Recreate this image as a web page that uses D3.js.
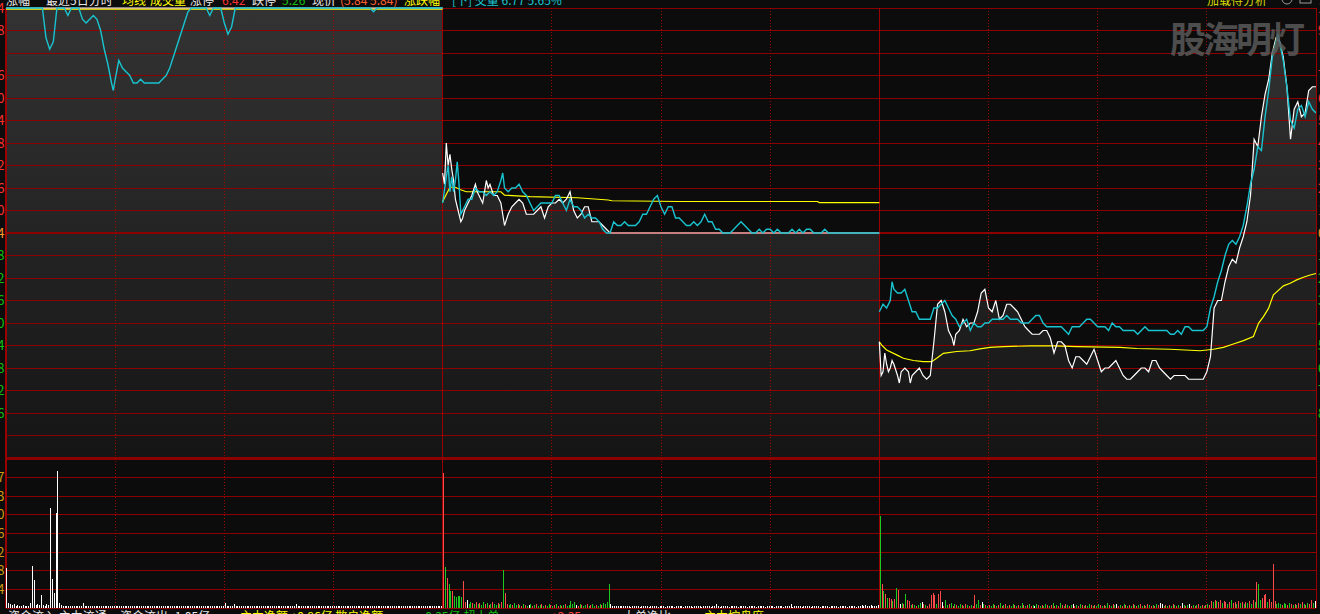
<!DOCTYPE html>
<html><head><meta charset="utf-8">
<script src="https://cdn.jsdelivr.net/npm/d3@7"></script>
<style>html,body{margin:0;padding:0;background:#0c0c0c;overflow:hidden}svg{display:block}</style>
</head><body><svg id="c" width="1320" height="614"></svg>
<script>
// ---------- data ----------
const prevClose = 5.84;
const priceTicks = [6.44,6.38,6.32,6.26,6.20,6.14,6.08,6.02,5.96,5.90,5.84,5.78,5.72,5.66,5.60,5.54,5.48,5.42,5.36,5.30,5.24];
const priceLabelTicks = [6.44,6.38,6.26,6.20,6.14,6.08,6.02,5.96,5.90,5.84,5.78,5.72,5.66,5.60,5.54,5.48,5.42,5.36];
const volTicks = [1394,2788,4182,5576,6970,8363,9757,11151];
const volLabelTicks = [1394,2788,4182,5576,6970,8363,9757];

// price line [minute, price]
const day1White = [[0,6.44],[240,6.44]];
const day2White = [[0,6.00],[1,5.97],[2,6.08],[3,6.02],[4,6.05],[5,6.01],[6,5.98],[7,5.93],[8,5.91],[9,5.89],[10,5.87],[11,5.88],[12,5.90],[14,5.92],[16,5.94],[18,5.97],[19,5.95],[20,5.94],[22,5.92],[24,5.98],[25,5.96],[26,5.97],[28,5.94],[30,5.94],[32,5.92],[34,5.86],[36,5.89],[38,5.91],[40,5.92],[42,5.93],[44,5.92],[46,5.89],[48,5.89],[50,5.89],[52,5.90],[54,5.91],[56,5.88],[58,5.91],[60,5.92],[62,5.92],[64,5.93],[66,5.92],[68,5.93],[70,5.95],[72,5.90],[74,5.88],[76,5.89],[78,5.91],[80,5.91],[82,5.87],[84,5.87],[86,5.87],[88,5.86],[90,5.85],[92,5.84],[240,5.84]];
const day3White = [[0,5.55],[1,5.46],[2,5.47],[3,5.52],[4,5.49],[5,5.47],[6,5.48],[7,5.50],[8,5.49],[10,5.46],[11,5.44],[12,5.47],[14,5.48],[16,5.47],[17,5.44],[18,5.46],[20,5.47],[22,5.48],[24,5.46],[26,5.45],[28,5.46],[30,5.55],[32,5.65],[34,5.66],[36,5.63],[38,5.58],[40,5.56],[41,5.54],[42,5.57],[44,5.58],[46,5.61],[48,5.59],[50,5.60],[52,5.60],[54,5.63],[56,5.68],[58,5.69],[60,5.64],[62,5.63],[64,5.66],[66,5.61],[68,5.62],[70,5.65],[72,5.65],[74,5.64],[76,5.63],[78,5.61],[80,5.59],[82,5.58],[84,5.57],[86,5.57],[88,5.57],[90,5.58],[92,5.58],[94,5.56],[96,5.52],[98,5.55],[100,5.55],[102,5.54],[104,5.50],[106,5.48],[108,5.51],[110,5.51],[112,5.50],[114,5.49],[116,5.51],[118,5.53],[120,5.50],[122,5.47],[124,5.48],[126,5.48],[128,5.49],[130,5.50],[132,5.48],[134,5.46],[136,5.45],[138,5.45],[140,5.46],[142,5.47],[144,5.48],[146,5.48],[148,5.47],[150,5.50],[152,5.50],[154,5.48],[156,5.47],[158,5.46],[160,5.45],[162,5.46],[164,5.46],[166,5.46],[168,5.46],[170,5.45],[172,5.45],[174,5.45],[176,5.45],[178,5.45],[180,5.47],[182,5.51],[184,5.64],[186,5.66],[188,5.66],[190,5.71],[192,5.75],[194,5.77],[196,5.76],[198,5.80],[200,5.83],[202,5.87],[204,5.94],[206,6.09],[208,6.07],[210,6.15],[212,6.21],[214,6.25],[216,6.32],[218,6.36],[220,6.35],[222,6.31],[224,6.23],[226,6.09],[228,6.17],[230,6.19],[232,6.15],[234,6.16],[236,6.22],[238,6.23],[240,6.23]];

// cyan line [minute, value]
const day1Cyan = [[0,6.44],[20,6.44],[22,6.36],[24,6.33],[26,6.35],[28,6.44],[32,6.44],[34,6.42],[36,6.44],[40,6.44],[42,6.41],[44,6.40],[46,6.41],[48,6.42],[50,6.41],[52,6.38],[54,6.33],[56,6.29],[58,6.24],[59,6.22],[60,6.25],[62,6.30],[64,6.28],[66,6.27],[68,6.26],[70,6.24],[72,6.24],[74,6.25],[76,6.24],[78,6.24],[80,6.24],[82,6.24],[84,6.24],[86,6.25],[88,6.26],[90,6.28],[92,6.31],[94,6.34],[96,6.37],[98,6.40],[100,6.43],[102,6.44],[110,6.44],[112,6.42],[114,6.44],[118,6.44],[120,6.40],[122,6.37],[124,6.39],[126,6.44],[200,6.44],[202,6.43],[204,6.44],[240,6.44]];
const day2Cyan = [[0,5.92],[2,5.99],[3,6.02],[4,5.95],[5,5.99],[6,5.95],[7,5.98],[8,6.03],[9,5.97],[10,5.89],[12,5.91],[14,5.93],[16,5.93],[18,5.96],[20,5.95],[22,5.95],[24,5.94],[26,5.95],[28,5.94],[30,5.95],[32,5.98],[33,6.00],[34,5.96],[36,5.95],[38,5.96],[40,5.96],[42,5.97],[44,5.95],[46,5.94],[48,5.92],[50,5.90],[52,5.91],[54,5.92],[56,5.92],[58,5.92],[60,5.92],[62,5.94],[64,5.94],[66,5.92],[68,5.90],[70,5.93],[72,5.91],[74,5.91],[76,5.90],[78,5.88],[80,5.89],[82,5.88],[84,5.88],[86,5.87],[88,5.85],[90,5.84],[92,5.84],[94,5.87],[96,5.86],[98,5.86],[100,5.87],[102,5.86],[104,5.86],[106,5.86],[108,5.87],[110,5.89],[112,5.89],[114,5.91],[116,5.93],[118,5.94],[120,5.91],[122,5.89],[124,5.91],[126,5.91],[128,5.88],[130,5.88],[132,5.87],[134,5.86],[136,5.86],[138,5.87],[140,5.86],[142,5.87],[144,5.89],[146,5.87],[148,5.87],[150,5.85],[152,5.85],[154,5.84],[158,5.84],[160,5.85],[162,5.86],[164,5.87],[166,5.86],[168,5.85],[170,5.84],[172,5.84],[174,5.85],[176,5.84],[178,5.85],[180,5.85],[182,5.84],[184,5.85],[186,5.84],[190,5.84],[192,5.85],[194,5.84],[196,5.85],[198,5.84],[200,5.85],[202,5.85],[204,5.84],[208,5.84],[210,5.85],[212,5.84],[240,5.84]];
const day3Cyan = [[0,5.63],[2,5.65],[4,5.64],[6,5.66],[7,5.71],[8,5.69],[10,5.68],[12,5.68],[14,5.69],[16,5.66],[18,5.63],[20,5.63],[22,5.61],[24,5.61],[26,5.61],[28,5.61],[30,5.64],[32,5.64],[34,5.65],[36,5.66],[38,5.64],[40,5.62],[42,5.61],[44,5.59],[46,5.60],[48,5.61],[50,5.58],[52,5.60],[54,5.59],[56,5.59],[58,5.60],[60,5.60],[62,5.61],[64,5.61],[66,5.61],[68,5.61],[70,5.62],[72,5.61],[74,5.61],[76,5.61],[78,5.60],[80,5.60],[82,5.60],[84,5.61],[86,5.62],[88,5.62],[90,5.60],[92,5.59],[100,5.59],[102,5.58],[104,5.57],[106,5.59],[108,5.59],[110,5.59],[112,5.60],[114,5.61],[116,5.61],[118,5.60],[120,5.59],[122,5.59],[124,5.59],[126,5.58],[128,5.60],[130,5.59],[132,5.59],[134,5.58],[140,5.58],[142,5.57],[144,5.58],[146,5.59],[148,5.58],[150,5.58],[152,5.58],[154,5.58],[158,5.58],[160,5.57],[162,5.57],[164,5.58],[166,5.57],[168,5.59],[170,5.59],[172,5.58],[174,5.58],[176,5.58],[178,5.58],[180,5.59],[182,5.64],[184,5.67],[186,5.71],[188,5.74],[190,5.78],[192,5.81],[194,5.82],[196,5.81],[198,5.83],[200,5.86],[202,5.91],[204,5.97],[206,6.01],[208,6.07],[210,6.06],[212,6.15],[214,6.22],[216,6.31],[218,6.35],[219,6.37],[220,6.35],[222,6.30],[224,6.23],[226,6.14],[228,6.12],[230,6.17],[232,6.18],[234,6.15],[236,6.19],[238,6.17],[240,6.16]];

// average line [minute, price]
const day1Avg = [[0,6.437],[240,6.437]];
const day2Avg = [[0,5.924],[4,5.962],[7,5.962],[9.5,5.956],[13,5.950],[32,5.950],[34,5.941],[48,5.937],[74,5.934],[91,5.928],[93,5.926],[130,5.924],[206,5.924],[207,5.921],[240,5.921]];
const day3Avg = [[0,5.550],[1.3,5.541],[4,5.528],[9.5,5.515],[13.2,5.506],[18.7,5.500],[24.2,5.497],[28.8,5.497],[31.5,5.506],[35.2,5.519],[42.5,5.524],[49.8,5.526],[55.3,5.531],[60.8,5.535],[68.2,5.537],[82.8,5.539],[95.7,5.539],[108.5,5.537],[132.3,5.535],[141.5,5.532],[159.8,5.530],[176.3,5.526],[183.6,5.530],[189.1,5.535],[194.6,5.544],[200.1,5.553],[205.6,5.564],[208.4,5.599],[211.1,5.617],[213.9,5.639],[216.6,5.675],[218.4,5.683],[222.1,5.699],[225.8,5.706],[229.4,5.715],[233.1,5.722],[236.8,5.728],[240,5.732]];

// volume per minute
const day1Vol = [3000,375,300,225,300,150,225,150,150,225,150,150,150,375,3150,2100,225,300,225,975,
225,150,300,225,7500,2175,1125,7100,10250,375,225,150,150,120,150,120,150,120,150,120,
150,120,375,150,120,150,120,150,120,120,150,120,150,120,120,150,120,120,150,120,
120,150,120,120,150,120,120,150,120,120,150,120,150,120,120,150,120,120,150,120,
150,120,120,150,120,150,120,120,150,120,120,150,120,150,120,120,150,120,120,150,
120,150,120,120,150,120,120,150,120,150,120,120,150,120,120,150,120,150,120,120,
375,150,120,150,120,300,150,120,120,150,120,120,150,120,150,120,120,150,120,120,
150,120,120,150,120,150,120,120,150,120,120,150,120,150,120,120,150,120,120,300,
150,120,120,150,120,150,120,120,150,120,120,150,120,150,120,120,150,120,120,150,
120,150,120,120,150,120,120,150,120,150,120,120,150,120,120,150,120,150,120,120,
150,120,120,150,120,150,120,120,150,120,120,150,120,150,120,120,150,120,120,150,
120,150,120,120,150,120,120,150,120,150,120,120,150,120,120,150,120,150,120,150];
const day1Dir = "wwwwwwwwwwwwwwwwwwww" + "wwwwwwwwwwwwwwwwwwww" + "wwwwwwwwwwwwwwwwwwww" + "wwwwwwwwwwwwwwwwwwww" +
  "wwwwwwwwwwwwwwwwwwww" + "wwwwwwwwwwwwwwwwwwww" + "wwwwwwwwwwwwwwwwwwww" + "wwwwwwwwwwwwwwwwwwww" +
  "wwwwwwwwwwwwwwwwwwww" + "wwwwwwwwwwwwwwwwwwww" + "wwwwwwwwwwwwwwwwwwww" + "wwwwwwwwwwwwwwwwwwww";
const day2Vol = [10100,3080,2250,1800,1275,1275,900,825,900,900,825,2025,450,600,300,450,375,300,450,300,
375,225,450,300,375,225,300,450,300,225,375,300,450,2850,1150,300,225,300,225,375,
225,300,225,150,300,225,150,225,300,150,225,300,150,225,300,150,225,150,300,225,
150,225,300,150,225,150,225,300,150,225,525,300,450,225,150,300,225,150,225,300,
150,225,300,150,225,150,300,225,375,300,450,1800,300,150,120,120,150,120,120,150,
120,150,120,90,120,150,120,120,90,150,120,120,150,90,120,120,150,120,90,120,
120,150,90,120,120,150,120,90,120,150,120,120,90,150,120,120,150,90,120,120,
150,120,90,120,150,120,120,90,150,120,300,120,90,120,150,120,120,90,150,120,
120,150,90,120,120,150,120,90,120,150,120,120,90,150,120,120,150,90,120,120,
150,120,90,120,150,120,120,90,150,120,120,300,90,120,150,120,120,90,150,120,
120,150,90,120,120,150,120,90,120,150,120,120,90,150,120,120,150,90,120,120,
150,120,90,120,150,120,120,90,150,120,225,150,225,150,150,225,150,120,150,225];
const day2Dir = "rgrggrgggggrrwggrgrg" + "rggrgrgrggrgrgrrggrg" + "grgrgrgwgrgrggrgrggr" + "grgrgrgrgggggwrgrggr" +
  "grggrggrggggwwwwwwww" + "wwwwwwwwwwwwwwwwwwww" + "wwwwwwwwwwwwwwwwwwww" + "wwwwwwwwwwwwwwwwwwww" +
  "wwwwwwwwwwwwwwwwwwww" + "wwwwwwwwwwwwwwwwwwww" + "wwwwwwwwwwwwwwwwwwww" + "wwwwwwwwwwwwwwwwwwww";
const day3Vol = [6900,1800,1275,1050,750,750,675,525,675,1500,1350,300,375,300,1050,600,525,225,300,225,
150,225,375,450,300,225,150,300,975,1125,975,300,1050,1275,450,150,600,225,300,375,
150,300,225,150,300,225,150,300,225,150,225,150,1000,300,600,225,450,300,225,150,
225,150,300,225,150,225,375,150,225,300,150,225,150,300,225,150,225,150,375,225,
150,225,300,150,225,150,300,225,150,225,150,300,225,150,225,375,150,225,150,375,
225,150,300,225,150,225,300,150,225,150,300,225,150,225,150,300,225,150,225,150,
300,225,150,225,150,375,225,150,300,225,300,150,225,150,300,225,150,225,150,300,
225,150,225,300,150,225,150,300,225,150,225,150,300,225,375,300,150,225,150,225,
150,300,225,150,225,150,375,225,150,225,300,150,225,150,225,300,150,225,150,225,
300,225,525,450,600,525,450,600,375,525,450,300,450,600,375,450,300,525,375,450,
300,450,375,525,300,600,450,1950,1800,600,750,975,1050,450,675,450,3300,525,300,375,
300,225,375,300,225,375,300,225,300,225,375,300,450,300,225,375,300,600,375,525];
const day3Dir = "grgrgrrgrgrwgrgrrgrg" + "rggwrgrrrrrgrrwrggrg" + "rgrggrgrgrgrrggrwgrg" + "rggrgrgrgrgrggrgrggr" +
  "grgrgwgrgrggrgrgrgrg" + "rgrgrgwrgrgrgrggrgrg" + "grgrggrgrgwrgrgrgrgr" + "grgrgrgrgrgrgrwwgrgr" +
  "grgrgrwgrgwrgrgrgrgr" + "grrgrgrrgrrgrgrrgrgr" + "grgrgrgrggrrrgrrrrgg" + "grggrgrgrgrgrgrgrrgw";

// header / footer texts [x, colour, text]
const headerItems = [
  [6, '#e8e8e8', '涨幅'], [46, '#e8e8e8', '最近5日分时'], [122, '#ffff00', '均线'],
  [150, '#ffff00', '成交量'], [190, '#e8e8e8', '涨停'], [222, '#ff3030', '6.42'],
  [252, '#e8e8e8', '跌停'], [282, '#10c010', '5.26'], [312, '#e8e8e8', '现价'],
  [340, '#ff6030', '(5.84 5.84)'], [404, '#ffff00', '涨跌幅'], [452, '#19c3cf', '[下] 交量 6.77 5.65%']
];
const footerItems = [
  [8, '#e8e8e8', '资金流入 主力流通'], [120, '#e8e8e8', '资金流出 -1.05亿'], [240, '#ffff00', '主力净额 +0.86亿 散户净额'],
  [421, '#10c010', '-0.35亿 超大单'], [551, '#ff4040', '+2.35'], [623, '#e8e8e8', '大单净比'], [704, '#ffff00', '主力控盘度']
];

// ---------- drawing ----------
const W = 1320, H = 614;
const X0 = 6, X1 = 1316, PT = 8, PB = 458, VT = 459, VB = 608;
const svg = d3.select('#c');
const x = d3.scaleLinear().domain([0, 720]).range([X0, X1]);
const y = d3.scaleLinear().domain([5.24, 6.44]).range([PB, PT]);
const yv = d3.scaleLinear().domain([0, 11151]).range([VB, VT]);
const FONT = "'Noto Sans CJK SC','Noto Sans',sans-serif";

svg.append('rect').attr('width', W).attr('height', H).attr('fill', '#0c0c0c');

const defs = svg.append('defs');
const gr = defs.append('linearGradient').attr('id', 'fillg')
  .attr('gradientUnits', 'userSpaceOnUse').attr('x1', 0).attr('y1', PT).attr('x2', 0).attr('y2', PB);
gr.append('stop').attr('offset', 0).attr('stop-color', '#333333');
gr.append('stop').attr('offset', 1).attr('stop-color', '#151515');

const whites = [day1White, day2White, day3White];
const cyans = [day1Cyan, day2Cyan, day3Cyan];
const avgs = [day1Avg, day2Avg, day3Avg];

// area under price
whites.forEach((d, i) => {
  const area = d3.area().x(p => x(i * 240 + p[0])).y0(PB).y1(p => y(p[1]));
  svg.append('path').datum(d).attr('d', area).attr('fill', 'url(#fillg)');
});

// grid
const grid = svg.append('g').attr('shape-rendering', 'crispEdges');
priceTicks.forEach(v => {
  grid.append('line').attr('x1', X0).attr('x2', X1).attr('y1', y(v)).attr('y2', y(v))
    .attr('stroke', '#8c0000').attr('stroke-width', (v === prevClose || v === 5.24) ? 2 : 1);
});
[0].concat(volTicks).forEach(v => {
  grid.append('line').attr('x1', X0).attr('x2', X1).attr('y1', yv(v)).attr('y2', yv(v))
    .attr('stroke', '#8c0000').attr('stroke-width', 1);
});
for (let k = 0; k <= 12; k++) {
  const xx = x(k * 60);
  const solid = k % 4 === 0;
  grid.append('line').attr('x1', xx).attr('x2', xx).attr('y1', PT).attr('y2', VB)
    .attr('stroke', solid ? '#9a0000' : '#a00000').attr('stroke-width', 1)
    .attr('stroke-dasharray', solid ? null : '1,2');
}

// lines
const lineGen = i => d3.line().x(p => x(i * 240 + p[0])).y(p => y(p[1]));
avgs.forEach((d, i) => svg.append('path').datum(d).attr('d', lineGen(i))
  .attr('fill', 'none').attr('stroke', '#ffff00').attr('stroke-width', 1.2));
whites.forEach((d, i) => svg.append('path').datum(d).attr('d', lineGen(i))
  .attr('fill', 'none').attr('stroke', '#ffffff').attr('stroke-width', 1.2));
cyans.forEach((d, i) => svg.append('path').datum(d).attr('d', lineGen(i))
  .attr('fill', 'none').attr('stroke', '#19c3cf').attr('stroke-width', 1.4));

// volume bars
const colorOf = c => c === 'r' ? '#ff4a4a' : (c === 'g' ? '#1fc81f' : '#ffffff');
const vols = [day1Vol, day2Vol, day3Vol];
const dirs = [day1Dir, day2Dir, day3Dir];
const vb = svg.append('g').attr('shape-rendering', 'crispEdges');
vols.forEach((arr, i) => {
  arr.forEach((v, m) => {
    const xx = Math.floor(x(i * 240 + m + 0.5));
    vb.append('rect').attr('x', xx).attr('width', 1)
      .attr('y', yv(v)).attr('height', VB - yv(v))
      .attr('fill', colorOf(dirs[i][m]));
  });
});

// axis labels, clipped at the window edge as in the source
priceLabelTicks.forEach(v => {
  const col = v > prevClose ? '#ff3030' : (v < prevClose ? '#10c010' : '#ff9a30');
  svg.append('text').attr('x', 4.5).attr('y', y(v) + 4.5).attr('text-anchor', 'end')
    .attr('font-family', FONT).attr('font-size', 13).attr('fill', col).text(v.toFixed(2));
  const pct = ((v / prevClose - 1) * 100);
  svg.append('text').attr('x', 1318).attr('y', y(v) + 4.5).attr('text-anchor', 'start')
    .attr('font-family', FONT).attr('font-size', 13).attr('fill', col).text(Math.abs(pct).toFixed(2) + '%');
});
volLabelTicks.forEach(v => {
  svg.append('text').attr('x', 4.5).attr('y', yv(v) + 4.5).attr('text-anchor', 'end')
    .attr('font-family', FONT).attr('font-size', 13).attr('fill', '#d29a10').text(String(v));
});

// borders
svg.append('line').attr('x1', X0 - 0.5).attr('x2', X0 - 0.5).attr('y1', PT).attr('y2', VB)
  .attr('stroke', '#9a0000').attr('stroke-width', 1);
svg.append('line').attr('x1', X1 + 0.5).attr('x2', X1 + 0.5).attr('y1', PT).attr('y2', VB)
  .attr('stroke', '#9a0000').attr('stroke-width', 1);

// sequential text layout without overlap
function layoutRow(items, yy) {
  let end = -Infinity;
  items.forEach(h => {
    const xx = Math.max(h[0], end + 4);
    const t = svg.append('text').attr('x', xx).attr('y', yy)
      .attr('font-family', FONT).attr('font-size', 12).attr('fill', h[1]).text(h[2]);
    end = xx + t.node().getComputedTextLength();
  });
}
layoutRow(headerItems, 4.5);
layoutRow(footerItems, 621);

svg.append('text').attr('x', 1207).attr('y', 4.5).attr('font-family', FONT).attr('font-size', 12)
  .attr('fill', '#d8d800').text('加载得分析');
svg.append('circle').attr('cx', 1287).attr('cy', -1).attr('r', 5).attr('fill', 'none').attr('stroke', '#9a9a9a');
svg.append('rect').attr('x', 1300).attr('y', -6).attr('width', 11).attr('height', 9).attr('fill', 'none').attr('stroke', '#9a9a9a');

// watermark
svg.append('text').attr('x', 1170).attr('y', 53).attr('font-family', FONT)
  .attr('font-size', 36).attr('font-weight', 'bold').attr('fill', '#5a5a5a').attr('fill-opacity', 0.85)
  .attr('letter-spacing', -3).text('股海明灯');
</script></body></html>
